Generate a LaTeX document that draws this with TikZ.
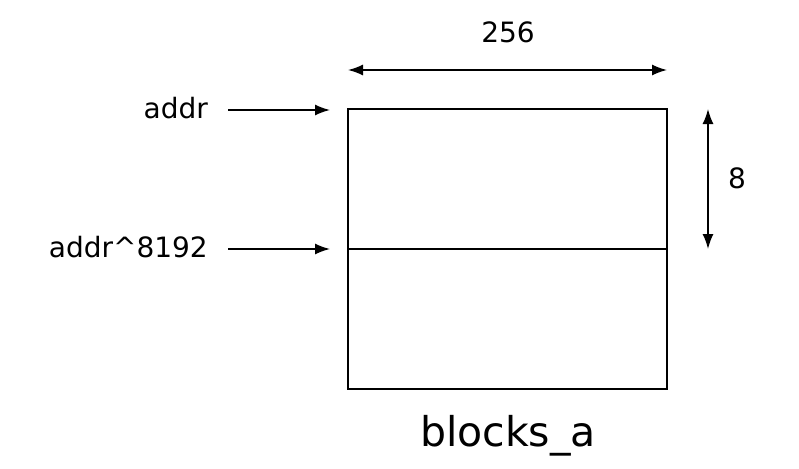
\documentclass[tikz,border=0pt]{standalone}
\usepackage{fontspec}
\setmainfont{DejaVu Sans}
\usetikzlibrary{arrows.meta}
\begin{document}
\begin{tikzpicture}[x=1pt,y=-1pt,
  lbl/.style={inner sep=0pt,font=\fontsize{28}{32}\selectfont},
  arr/.style={line width=1.5pt,-{Latex[length=15pt,width=11pt]}},
  darr/.style={line width=1.5pt,{Latex[length=15pt,width=11pt]}-{Latex[length=15pt,width=11pt]}}]
\useasboundingbox (0,0) rectangle (799,468);
\draw[line width=1.5pt] (348,109) rectangle (667,389);
\coordinate (ml) at (348,249); \coordinate (mr) at (667,249);
\draw[line width=1.5pt] (ml) -- (mr);
\coordinate (tl) at (348,70); \coordinate (tr) at (667,70);
\draw[darr] (tl) -- (tr);
\node[lbl] (w) at (508,32) {256};
\coordinate (rt) at (708,109); \coordinate (rb) at (708,249);
\draw[darr] (rt) -- (rb);
\node[lbl] (h) at (737,178) {8};
\node[lbl,anchor=east] (a) at (208,108) {addr};
\node[lbl,anchor=east] (b) at (208,247) {addr\^{}8192};
\coordinate (a1) at (228,110); \coordinate (a2) at (330,110);
\coordinate (b1) at (228,249); \coordinate (b2) at (330,249);
\draw[arr] (a1) -- (a2);
\draw[arr] (b1) -- (b2);
\node[inner sep=0pt,font=\fontsize{41}{46}\selectfont] (n) at (508,436) {blocks\_a};
\end{tikzpicture}
\end{document}
